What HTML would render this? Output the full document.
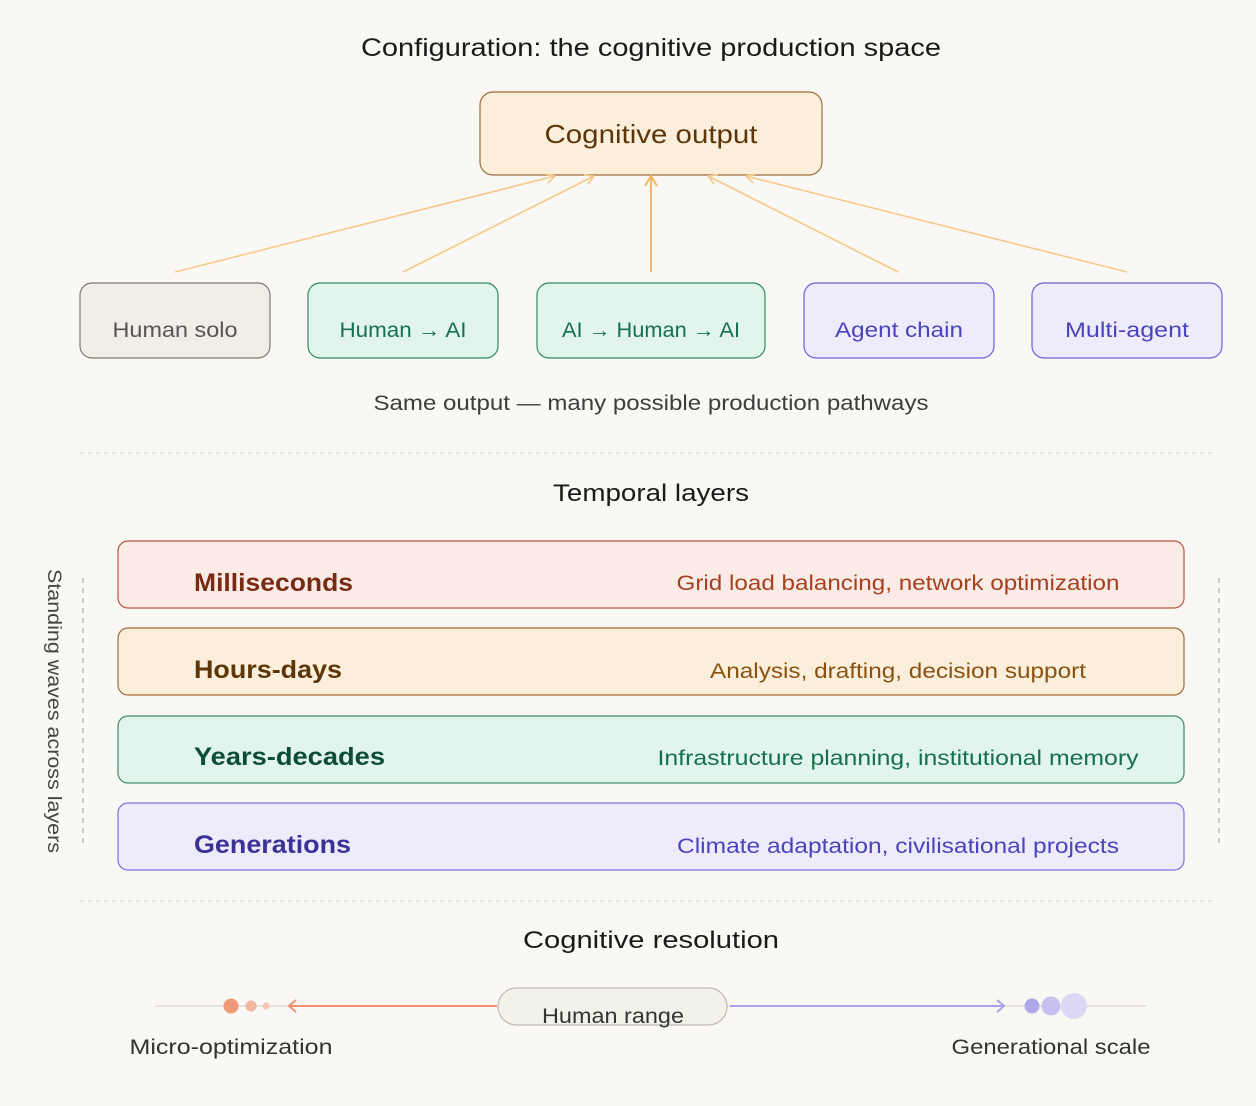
<!DOCTYPE html>
<html><head><meta charset="utf-8"><style>
html,body{margin:0;padding:0;background:#f9f8f4;}
svg{display:block;font-family:"Liberation Sans",sans-serif;}
</style></head><body>
<svg width="1256" height="1106" viewBox="0 0 1256 1106" xmlns="http://www.w3.org/2000/svg">
<rect width="1256" height="1106" fill="#f9f8f4"/>
<text x="651" y="56" text-anchor="middle" font-size="25" fill="#1a1a1a" textLength="580" lengthAdjust="spacingAndGlyphs">Configuration: the cognitive production space</text>

<rect x="480" y="92" width="342" height="83" rx="13" fill="#fbefdc" stroke="#9a6b3a" stroke-width="1.2"/>
<text x="651" y="143" text-anchor="middle" font-size="26" fill="#5c3609" textLength="213" lengthAdjust="spacingAndGlyphs">Cognitive output</text>

<g stroke="#f7c88a" stroke-width="1.6" fill="none">
<line x1="175" y1="272" x2="555" y2="176"/>
<polyline points="545,174 555,176 548,183"/>
<line x1="403" y1="272" x2="594" y2="176"/>
<polyline points="584,175 594,176 588,184"/>
<line x1="898" y1="272" x2="708" y2="176"/>
<polyline points="718,175 708,176 714,184"/>
<line x1="1127" y1="272" x2="746" y2="176"/>
<polyline points="756,174 746,176 753,183"/>
</g>
<g stroke="#f4b768" stroke-width="2" fill="none">
<line x1="651" y1="272" x2="651" y2="176"/>
<polyline points="645,186 651,176 657,186"/>
</g>

<rect x="80" y="283" width="190" height="75" rx="12" fill="#f1eee7" stroke="#7d7b76" stroke-width="1.2"/>
<text x="175" y="337" text-anchor="middle" font-size="21" fill="#555" textLength="125" lengthAdjust="spacingAndGlyphs">Human solo</text>
<rect x="308" y="283" width="190" height="75" rx="12" fill="#e1f5ed" stroke="#2f8a68" stroke-width="1.2"/>
<text x="403" y="337" text-anchor="middle" font-size="21" fill="#16704f" textLength="127" lengthAdjust="spacingAndGlyphs">Human → AI</text>
<rect x="537" y="283" width="228" height="75" rx="12" fill="#e1f5ed" stroke="#2f8a68" stroke-width="1.2"/>
<text x="651" y="337" text-anchor="middle" font-size="21" fill="#16704f" textLength="178" lengthAdjust="spacingAndGlyphs">AI → Human → AI</text>
<rect x="804" y="283" width="190" height="75" rx="12" fill="#eeecfb" stroke="#6a62d6" stroke-width="1.2"/>
<text x="899" y="337" text-anchor="middle" font-size="21" fill="#4a43bd" textLength="128" lengthAdjust="spacingAndGlyphs">Agent chain</text>
<rect x="1032" y="283" width="190" height="75" rx="12" fill="#eeecfb" stroke="#6a62d6" stroke-width="1.2"/>
<text x="1127" y="337" text-anchor="middle" font-size="21" fill="#4a43bd" textLength="124" lengthAdjust="spacingAndGlyphs">Multi-agent</text>

<text x="651" y="410" text-anchor="middle" font-size="21" fill="#3d3d3d" textLength="555" lengthAdjust="spacingAndGlyphs">Same output — many possible production pathways</text>

<line x1="80" y1="453" x2="1216" y2="453" stroke="#dcd9d2" stroke-width="1.2" stroke-dasharray="4,4"/>
<text x="651" y="501" text-anchor="middle" font-size="24" fill="#1a1a1a" textLength="196" lengthAdjust="spacingAndGlyphs">Temporal layers</text>

<line x1="83" y1="578" x2="83" y2="845" stroke="#b0aea8" stroke-width="1.2" stroke-dasharray="5,5"/>
<line x1="1219" y1="578" x2="1219" y2="845" stroke="#b0aea8" stroke-width="1.2" stroke-dasharray="5,5"/>
<text transform="translate(48,711) rotate(90)" text-anchor="middle" font-size="19" fill="#444" textLength="284" lengthAdjust="spacingAndGlyphs">Standing waves across layers</text>

<rect x="118" y="541" width="1066" height="67" rx="10" fill="#fbebe6" stroke="#b8573a" stroke-width="1.2"/>
<text x="194" y="591" font-size="25" font-weight="bold" fill="#7a2a12" textLength="159" lengthAdjust="spacingAndGlyphs">Milliseconds</text>
<text x="898" y="590" text-anchor="middle" font-size="21" fill="#a6401f" textLength="443" lengthAdjust="spacingAndGlyphs">Grid load balancing, network optimization</text>

<rect x="118" y="628" width="1066" height="67" rx="10" fill="#fbefdc" stroke="#a26b3a" stroke-width="1.2"/>
<text x="194" y="678" font-size="25" font-weight="bold" fill="#5c3609" textLength="148" lengthAdjust="spacingAndGlyphs">Hours-days</text>
<text x="898" y="678" text-anchor="middle" font-size="21" fill="#8a5210" textLength="376" lengthAdjust="spacingAndGlyphs">Analysis, drafting, decision support</text>

<rect x="118" y="716" width="1066" height="67" rx="10" fill="#e1f5ed" stroke="#3d8a6c" stroke-width="1.2"/>
<text x="194" y="765" font-size="25" font-weight="bold" fill="#0b4d38" textLength="191" lengthAdjust="spacingAndGlyphs">Years-decades</text>
<text x="898" y="765" text-anchor="middle" font-size="21" fill="#16704f" textLength="481" lengthAdjust="spacingAndGlyphs">Infrastructure planning, institutional memory</text>

<rect x="118" y="803" width="1066" height="67" rx="10" fill="#eeecfb" stroke="#7a72db" stroke-width="1.2"/>
<text x="194" y="853" font-size="25" font-weight="bold" fill="#3a3296" textLength="157" lengthAdjust="spacingAndGlyphs">Generations</text>
<text x="898" y="853" text-anchor="middle" font-size="21" fill="#4a43bd" textLength="442" lengthAdjust="spacingAndGlyphs">Climate adaptation, civilisational projects</text>

<line x1="80" y1="901" x2="1216" y2="901" stroke="#dcd9d2" stroke-width="1.2" stroke-dasharray="4,4"/>
<text x="651" y="948" text-anchor="middle" font-size="24" fill="#1a1a1a" textLength="256" lengthAdjust="spacingAndGlyphs">Cognitive resolution</text>

<line x1="155" y1="1006" x2="1146" y2="1006" stroke="#e6e3dd" stroke-width="2"/>
<circle cx="231" cy="1006" r="7.5" fill="#ee9977"/>
<circle cx="251" cy="1006" r="5.5" fill="#f2b79f"/>
<circle cx="266" cy="1006" r="3.5" fill="#f4c8b6"/>
<g stroke="#ec9272" stroke-width="2" fill="none">
<line x1="497" y1="1006" x2="289" y2="1006"/>
<polyline points="296,1000 289,1006 296,1012"/>
</g>
<g stroke="#a9a2ea" stroke-width="2" fill="none">
<line x1="730" y1="1006" x2="1004" y2="1006"/>
<polyline points="997,1000 1004,1006 997,1012"/>
</g>
<circle cx="1074" cy="1006" r="13" fill="#dcd8f3"/>
<circle cx="1051" cy="1006" r="9.5" fill="#c6c1f0"/>
<circle cx="1032" cy="1006" r="7.5" fill="#aea7ea"/>

<rect x="498" y="988" width="229" height="37" rx="18.5" fill="#f3f2ea" stroke="#bdbab2" stroke-width="1.2"/>
<text x="613" y="1023" text-anchor="middle" font-size="21" fill="#333" textLength="142" lengthAdjust="spacingAndGlyphs">Human range</text>
<text x="231" y="1054" text-anchor="middle" font-size="21" fill="#333" textLength="203" lengthAdjust="spacingAndGlyphs">Micro-optimization</text>
<text x="1051" y="1054" text-anchor="middle" font-size="21" fill="#333" textLength="199" lengthAdjust="spacingAndGlyphs">Generational scale</text>
</svg>
</body></html>
